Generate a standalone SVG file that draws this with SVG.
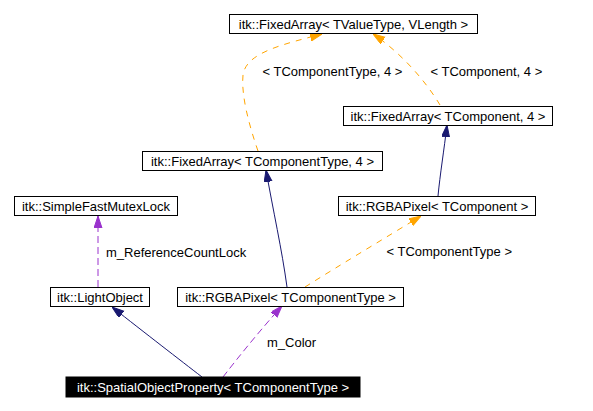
<svg xmlns="http://www.w3.org/2000/svg" width="593" height="411" viewBox="0 0 593 411">
<style>
.n rect{fill:#fff;stroke:#000;stroke-width:1}
.n text,.lbl{font-family:"Liberation Sans",Arial,sans-serif;font-size:13px;fill:#000}
.n text{text-anchor:middle}
#n8 rect{fill:#000}
#n8 text{fill:#fff}
.e{fill:none;stroke-width:1}
.nv{stroke:#191970}
.or{stroke:#ffa500;stroke-dasharray:6,6}
.pu{stroke:#9a32cd;stroke-dasharray:7,4}
</style>
<defs>
<marker id="aN" markerUnits="userSpaceOnUse" markerWidth="12" markerHeight="9" refX="12" refY="4" orient="auto"><path d="M0,0L12,4L0,8z" fill="#191970" stroke="#191970"/></marker>
<marker id="aO" markerUnits="userSpaceOnUse" markerWidth="12" markerHeight="9" refX="12" refY="4" orient="auto"><path d="M0,0L12,4L0,8z" fill="#ffa500" stroke="#ffa500"/></marker>
<marker id="aP" markerUnits="userSpaceOnUse" markerWidth="12" markerHeight="9" refX="12" refY="4" orient="auto"><path d="M0,0L12,4L0,8z" fill="#9a32cd" stroke="#9a32cd"/></marker>
</defs>
<g id="edges">
<path class="e nv" d="M202,377 C180,360 145,333 112,307" marker-end="url(#aN)"/>
<path class="e pu" d="M223,377 C240,355 262,328 282,306" stroke-dasharray="6,5" marker-end="url(#aP)"/>
<path class="e pu" d="M98,287 L98,216" marker-end="url(#aP)"/>
<path class="e nv" d="M287,287 C282,250 273,210 266,170" marker-end="url(#aN)"/>
<path class="e or" d="M305,287 C340,265 385,238 421,216" marker-end="url(#aO)"/>
<path class="e nv" d="M438,196 C440,175 444,150 447,125" marker-end="url(#aN)"/>
<path class="e or" d="M258,151 C249,125 241,95 243,75 C246,52 285,44 322,34" marker-end="url(#aO)"/>
<path class="e or" d="M440,105 C425,80 400,52 373,34" marker-end="url(#aO)"/>
<text class="lbl" x="262.5" y="76">&lt; TComponentType, 4 &gt;</text>
<text class="lbl" x="430.5" y="76">&lt; TComponent, 4 &gt;</text>
<text class="lbl" x="106" y="256.5">m_ReferenceCountLock</text>
<text class="lbl" x="386.5" y="255.5">&lt; TComponentType &gt;</text>
<text class="lbl" x="267" y="347">m_Color</text>
</g>
<g id="n1" class="n"><rect x="229.5" y="14.5" width="248" height="19"/><text x="353.5" y="29">itk::FixedArray&lt; TValueType, VLength &gt;</text></g>
<g id="n2" class="n"><rect x="343.5" y="106.5" width="209" height="19"/><text x="448" y="121">itk::FixedArray&lt; TComponent, 4 &gt;</text></g>
<g id="n3" class="n"><rect x="142.5" y="151.5" width="240" height="19"/><text x="262.5" y="166">itk::FixedArray&lt; TComponentType, 4 &gt;</text></g>
<g id="n4" class="n"><rect x="14.5" y="196.5" width="163" height="19"/><text x="96" y="211">itk::SimpleFastMutexLock</text></g>
<g id="n5" class="n"><rect x="50.5" y="287.5" width="99" height="19"/><text x="100" y="302">itk::LightObject</text></g>
<g id="n6" class="n"><rect x="177.5" y="287.5" width="226" height="19"/><text x="290.5" y="302">itk::RGBAPixel&lt; TComponentType &gt;</text></g>
<g id="n7" class="n"><rect x="338.5" y="196.5" width="197" height="19"/><text x="437" y="211">itk::RGBAPixel&lt; TComponent &gt;</text></g>
<g id="n8" class="n"><rect x="66" y="377" width="294" height="20"/><text x="213" y="392">itk::SpatialObjectProperty&lt; TComponentType &gt;</text></g>
</svg>
